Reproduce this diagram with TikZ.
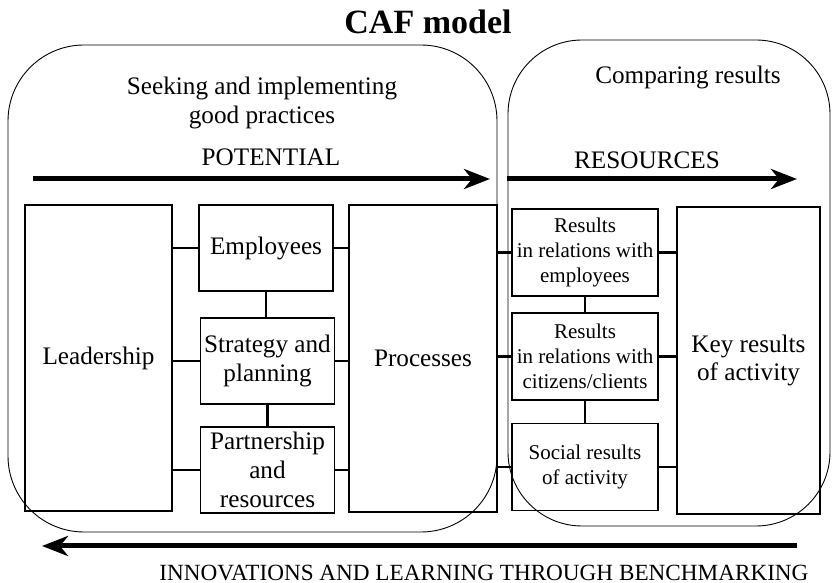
\documentclass[tikz,border=0pt]{standalone}
\usepackage{fontspec}
\setmainfont{Liberation Serif}
\usetikzlibrary{arrows.meta}
\begin{document}
\begin{tikzpicture}[x=0.5pt,y=-0.5pt,inner sep=0pt,outer sep=0pt,
txt/.style={font=\fontsize{12.6}{14.4}\selectfont,align=center},
bigblock/.style={draw,rectangle,line width=0.6pt,minimum width=73.5pt,minimum height=153pt,txt},
midblock/.style={draw,rectangle,line width=0.6pt,minimum width=67pt,minimum height=43pt,txt},
resblock/.style={draw,rectangle,line width=0.6pt,minimum width=73pt,minimum height=43.5pt,font=\fontsize{10.5}{12.5}\selectfont,align=center},
link/.style={line width=1.4pt},
flow/.style={line width=2.5pt,-{Stealth[length=13pt,width=10pt,inset=4pt]}}]
\useasboundingbox (0,0) rectangle (832,583);
\node[font=\bfseries\fontsize{17}{20}\selectfont] (title) at (428,22) {CAF model};
% the two groups
\draw[line width=0.45pt,rounded corners=38pt] (8,45) rectangle (497,532);
\draw[line width=0.45pt,rounded corners=37pt] (508,40) rectangle (830,526);
\node[txt] (seek) at (262,103) {Seeking and implementing\\good practices};
\node[txt] (comp) at (688,77) {Comparing results};
\node[txt] (pot) at (271,157) {POTENTIAL};
\node[txt] (resrc) at (647,160) {RESOURCES};
\coordinate (p0) at (33,179);
\coordinate (p1) at (490,179);
\coordinate (r0) at (507,179);
\coordinate (r1) at (797,179);
\draw[flow] (p0) -- (p1);
\draw[flow] (r0) -- (r1);
% enablers
\draw (98.5,358) node[bigblock] (lead) {Leadership};
\draw (266,248) node[midblock] (emp) {Employees};
\draw (267.5,361) node[midblock] (strat) {Strategy and\\planning};
\draw (267.5,470) node[midblock] (part) {Partnership\\and\\resources};
\draw (423,358.5) node[bigblock,minimum width=74pt,minimum height=153.5pt] (proc) {Processes};
% results
\draw (585,252.5) node[resblock] (res1) {Results\\in relations with\\employees};
\draw (585,356.5) node[resblock] (res2) {Results\\in relations with\\citizens/clients};
\draw (585,467) node[resblock] (res3) {Social results\\of activity};
\draw (748.5,360.5) node[bigblock,minimum width=71.5pt,minimum height=153.5pt] (key) {Key results\\of activity};
% links
\draw[link] (emp.west) -- (emp.west -| lead.east);
\draw[link] (strat.west) -- (strat.west -| lead.east);
\draw[link] (part.west) -- (part.west -| lead.east);
\draw[link] (emp.east) -- (emp.east -| proc.west);
\draw[link] (strat.east) -- (strat.east -| proc.west);
\draw[link] (part.east) -- (part.east -| proc.west);
\draw[link] (emp.south) -- (emp.south |- strat.north);
\draw[link] (strat.south) -- (strat.south |- part.north);
\draw[link] (res1.west) -- (res1.west -| proc.east);
\draw[link] (res2.west) -- (res2.west -| proc.east);
\draw[link] (res3.west) -- (res3.west -| proc.east);
\draw[link] (res1.east) -- (res1.east -| key.west);
\draw[link] (res2.east) -- (res2.east -| key.west);
\draw[link] (res3.east) -- (res3.east -| key.west);
\draw[link] (res1.south) -- (res1.south |- res2.north);
\draw[link] (res2.south) -- (res2.south |- res3.north);
% feedback
\coordinate (b0) at (797,546);
\coordinate (b1) at (42,546);
\draw[flow] (b0) -- (b1);
\node[txt,font=\fontsize{11.6}{14}\selectfont] (innov) at (484,573) {INNOVATIONS AND LEARNING THROUGH BENCHMARKING};
\end{tikzpicture}
\end{document}
